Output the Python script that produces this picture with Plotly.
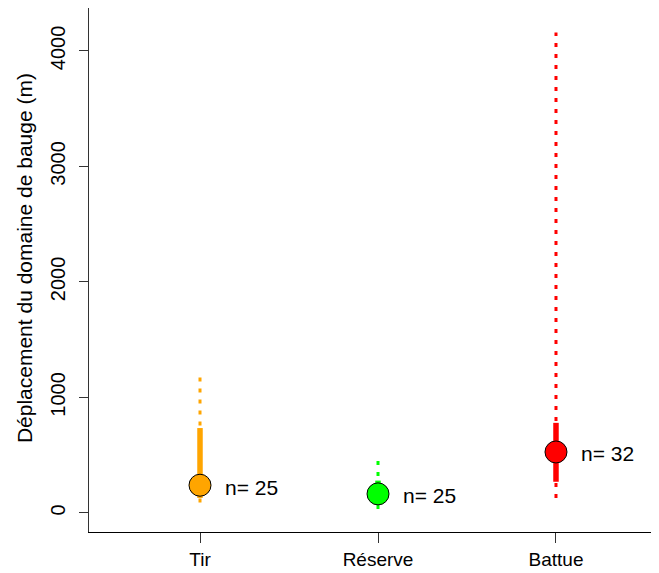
import plotly.graph_objects as go

categories = ["Tir", "Réserve", "Battue"]
x_pos = [1, 2, 3]
medians = [240, 165, 528]
thick_low = [130, 110, 270]
thick_high = [735, 280, 780]
dot_low = [90, 35, 130]
dot_high = [1220, 470, 4160]
n_obs = [25, 25, 32]
colors = ["#FFA500", "#00FF00", "#FF0000"]
y_ticks = [0, 1000, 2000, 3000, 4000]
y_title = "Déplacement du domaine de bauge (m)"

FONT = "Liberation Sans, Arial, sans-serif"

fig = go.Figure()
for xp, lo, hi, c in zip(x_pos, dot_low, dot_high, colors):
    fig.add_trace(go.Scatter(x=[xp, xp], y=[lo, hi], mode="lines",
                             line=dict(color=c, width=3, dash="4px,7px"),
                             showlegend=False, hoverinfo="skip"))
for xp, lo, hi, c in zip(x_pos, thick_low, thick_high, colors):
    fig.add_trace(go.Scatter(x=[xp, xp], y=[lo, hi], mode="lines",
                             line=dict(color=c, width=5.5),
                             showlegend=False, hoverinfo="skip"))
fig.add_trace(go.Scatter(x=x_pos, y=medians, mode="markers",
                         marker=dict(size=22, color=colors,
                                     line=dict(color="black", width=1)),
                         showlegend=False))
for xp, m, n in zip(x_pos, medians, n_obs):
    fig.add_annotation(x=xp, y=m, text=f"n= {n}", showarrow=False,
                       xanchor="left", yanchor="middle", xshift=23, yshift=-2,
                       font=dict(family=FONT, size=21, color="black"))

fig.add_annotation(xref="paper", yref="paper", x=-0.112, y=0.523,
                   text=y_title, textangle=-90, showarrow=False,
                   xanchor="center", yanchor="middle",
                   font=dict(family=FONT, size=21, color="black"))

fig.update_layout(
    width=651, height=565,
    margin=dict(l=81, r=0, t=0, b=41),
    plot_bgcolor="white", paper_bgcolor="white",
    font=dict(family=FONT, size=19, color="black"),
    xaxis=dict(range=[0.3764, 3.5787], tickvals=x_pos, ticktext=categories,
               showgrid=False, zeroline=False, showline=True, mirror=True,
               linecolor="black", linewidth=1, ticks="outside", ticklen=10,
               tickcolor="#333", tickfont=dict(size=19)),
    yaxis=dict(range=[-165, 4372], tickvals=y_ticks, tickangle=-90,
               showgrid=False, zeroline=False, showline=True, mirror=False,
               linecolor="#333", linewidth=1, ticks="outside", ticklen=9,
               tickcolor="#333", tickfont=dict(size=20), ticklabelstandoff=6),
)
fig.write_html("out.html")
